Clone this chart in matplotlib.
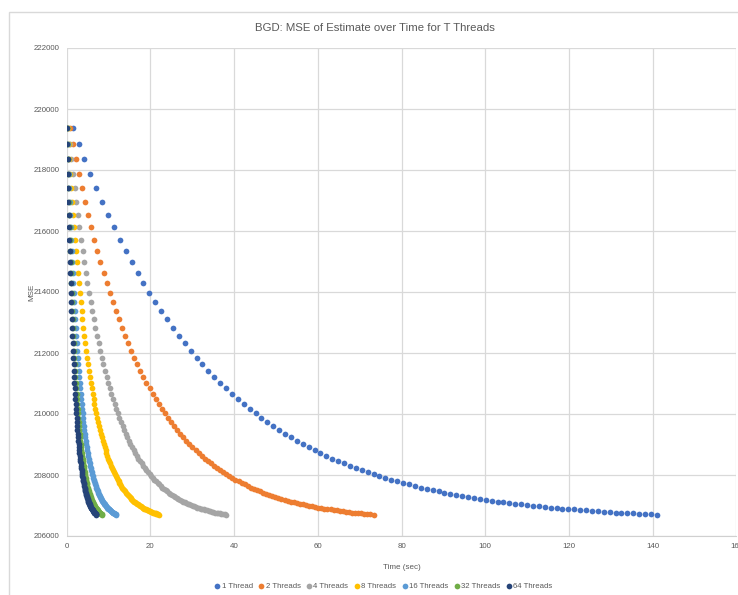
import numpy as np
import matplotlib
matplotlib.use("Agg")
import matplotlib.pyplot as plt
from matplotlib.patches import Rectangle

# ---- data ----
series_names = ["1 Thread", "2 Threads", "4 Threads", "8 Threads",
                "16 Threads", "32 Threads", "64 Threads"]
# seconds per iteration for each thread count
sec_per_iter = [1.41, 0.733, 0.381, 0.221, 0.118, 0.084, 0.071]
# MSE after each iteration (shared by every series)
mse = [219390, 218860, 218360, 217870, 217400, 216960, 216530, 216120, 215720, 215340,
       214980, 214630, 214300, 213980, 213670, 213380, 213100, 212830, 212570, 212320,
       212080, 211850, 211630, 211420, 211220, 211030, 210840, 210660, 210490, 210330,
       210170, 210020, 209880, 209740, 209610, 209480, 209360, 209240, 209130, 209020,
       208920, 208820, 208720, 208630, 208540, 208460, 208380, 208300, 208230, 208160,
       208090, 208020, 207960, 207900, 207840, 207790, 207740, 207690, 207640, 207590,
       207550, 207500, 207460, 207420, 207380, 207350, 207310, 207280, 207250, 207220,
       207190, 207160, 207130, 207110, 207080, 207060, 207040, 207010, 206990, 206970,
       206950, 206930, 206920, 206900, 206880, 206870, 206850, 206840, 206820, 206810,
       206800, 206790, 206770, 206760, 206750, 206740, 206730, 206720, 206710, 206700]
iterations = np.arange(1, len(mse) + 1)

colors = ["#4472C4", "#ED7D31", "#A5A5A5", "#FFC000", "#5B9BD5", "#70AD47", "#264478"]
x_ticks = list(range(0, 161, 20))
y_ticks = list(range(206000, 222001, 2000))

plt.rcParams['font.family'] = ['Liberation Sans', 'DejaVu Sans']
W, H = 738, 595
fig = plt.figure(figsize=(W / 100, H / 100), dpi=100)

# outer chart border
fig.patches.append(Rectangle((9 / W, -0.1), 1.2, 1 - 12 / H + 0.1,
                             transform=fig.transFigure, fill=False,
                             edgecolor="#D9D9D9", linewidth=1.0))

left, right, top, bottom = 66.7, 736.4, 48, 536
ax = fig.add_axes([left / W, 1 - bottom / H, (right - left) / W, (bottom - top) / H])

for name, spi, col in zip(series_names, sec_per_iter, colors):
    t = iterations * spi
    ax.scatter(t, mse, s=17, color=col, linewidths=0, label=name, zorder=3)

ax.set_xlim(0, 160)
ax.set_ylim(206000, 222000)
ax.set_xticks(x_ticks)
ax.set_yticks(y_ticks)
ax.grid(True, color="#D9D9D9", linewidth=0.9, zorder=0)
ax.set_axisbelow(True)
for s in ["top", "right", "left"]:
    ax.spines[s].set_visible(False)
ax.spines["bottom"].set_color("#D0D0D0")
ax.tick_params(length=0, labelsize=5.7, colors="#595959", pad=5)

ax.set_xlabel("Time (sec)", fontsize=5.8, color="#595959", labelpad=10)
ax.set_ylabel("MSE", fontsize=5.8, color="#595959", labelpad=-1)

fig.text(375 / W, 1 - 28 / H, "BGD: MSE of Estimate over Time for T Threads",
         ha="center", va="center", fontsize=8.2, color="#595959")

leg = fig.legend(loc="center", bbox_to_anchor=(383 / W, 1 - 586 / H), ncol=7,
                 frameon=False, fontsize=5.6, handletextpad=0.05, columnspacing=0.6,
                 markerscale=1.0, handlelength=1.0, borderaxespad=0)
for txt in leg.get_texts():
    txt.set_color("#595959")

fig.savefig("out.png", dpi=100)
